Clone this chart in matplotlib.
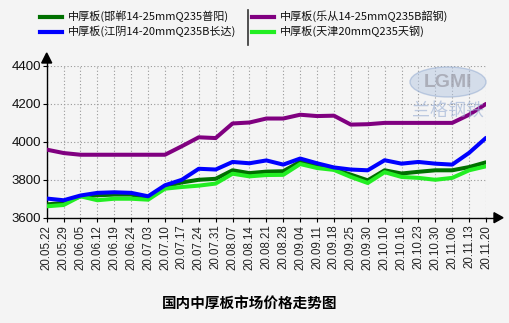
import matplotlib
matplotlib.use("Agg")
import matplotlib.pyplot as plt
from matplotlib.patches import Ellipse
from matplotlib.lines import Line2D

plt.rcParams['font.family'] = ['Liberation Sans', 'Noto Sans CJK SC', 'DejaVu Sans']

dates = ["20.05.22", "20.05.29", "20.06.05", "20.06.12", "20.06.19", "20.06.24", "20.07.03",
         "20.07.10", "20.07.17", "20.07.24", "20.07.31", "20.08.07", "20.08.14", "20.08.21",
         "20.08.28", "20.09.04", "20.09.11", "20.09.18", "20.09.25", "20.09.30", "20.10.10",
         "20.10.16", "20.10.23", "20.10.30", "20.11.06", "20.11.13", "20.11.20"]

handan = [3670, 3678, 3713, 3718, 3722, 3722, 3704, 3765, 3786, 3800, 3805, 3850, 3835, 3843,
          3845, 3895, 3875, 3855, 3827, 3797, 3850, 3833, 3842, 3850, 3850, 3867, 3892]
jiangyin = [3701, 3692, 3717, 3731, 3734, 3731, 3713, 3771, 3800, 3858, 3854, 3894, 3887, 3902,
            3880, 3912, 3887, 3865, 3854, 3850, 3903, 3885, 3894, 3885, 3880, 3942, 4021]
lecong = [3959, 3941, 3932, 3932, 3932, 3932, 3932, 3932, 3977, 4024, 4020, 4097, 4102, 4123,
          4123, 4143, 4136, 4138, 4091, 4093, 4100, 4100, 4100, 4100, 4100, 4143, 4200]
tianjin = [3660, 3667, 3713, 3692, 3700, 3700, 3695, 3753, 3762, 3769, 3780, 3832, 3818, 3825,
           3826, 3883, 3862, 3852, 3815, 3783, 3840, 3815, 3810, 3800, 3810, 3850, 3871]

series_names = ["中厚板(邯郸14-25mmQ235普阳)", "中厚板(江阴14-20mmQ235B长达)",
                "中厚板(乐从14-25mmQ235B韶钢)", "中厚板(天津20mmQ235天钢)"]
colors = ["#007000", "#0000FF", "#800080", "#22EE22"]

yticks = [3600, 3800, 4000, 4200, 4400]
title = "国内中厚板市场价格走势图"

W, H = 509, 323
bg = "#F4F4F4"
fig = plt.figure(figsize=(W / 100, H / 100), dpi=100, facecolor=bg)
x0, x1, ytop, ybot = 46.7, 486.0, 66.0, 217.7
ax = fig.add_axes([x0 / W, 1 - ybot / H, (x1 - x0) / W, (ybot - ytop) / H], facecolor=bg)

xs = list(range(len(dates)))
data = [handan, jiangyin, lecong, tianjin]
order = [0, 3, 1, 2]
for i in order:
    ax.plot(xs, data[i], color=colors[i], lw=2.9, solid_joinstyle='round',
            solid_capstyle='round', zorder=3 + order.index(i))

ax.set_xlim(0, len(dates) - 1)
ax.set_ylim(3600, 4400)
ax.set_xticks(xs)
ax.set_xticklabels(dates, rotation=90, fontsize=8.3, color="#222222")
ax.set_yticks(yticks)
ax.set_yticklabels([str(v) for v in yticks], fontsize=9.5, color="#111111")
ax.tick_params(axis='x', length=3, width=0.8, pad=2, color="black")
ax.tick_params(axis='y', length=3, width=0.8, pad=1, color="black")
ax.grid(True, color="#999999", lw=0.8, linestyle=(0, (1, 2)))
for s in ["top", "right"]:
    ax.spines[s].set_visible(False)
for s in ["left", "bottom"]:
    ax.spines[s].set_color("black")
    ax.spines[s].set_linewidth(1.0)

# axis arrows
fig.add_artist(Line2D([x0 / W, x0 / W], [1 - ytop / H, 1 - 60 / H], color="black", lw=1.0))
fig.add_artist(Line2D([x1 / W, 496 / W], [1 - ybot / H, 1 - ybot / H], color="black", lw=1.0))
fig.add_artist(plt.Polygon([[(x0 - 5) / W, 1 - 63 / H], [(x0 + 5) / W, 1 - 63 / H], [x0 / W, 1 - 53 / H]],
                           closed=True, color="black", transform=fig.transFigure))
fig.add_artist(plt.Polygon([[494 / W, 1 - (ybot - 5) / H], [494 / W, 1 - (ybot + 5) / H], [503 / W, 1 - ybot / H]],
                           closed=True, color="black", transform=fig.transFigure))

# watermark
fig.add_artist(Ellipse((448 / W, 1 - 82 / H), 76 / W, 30 / H, transform=fig.transFigure,
                       facecolor="#B5C7E2", edgecolor="#8FA8CF", alpha=0.5, lw=1.0, zorder=1))
fig.text(448 / W, 1 - 82 / H, "LGMI", ha="center", va="center", fontsize=14, fontweight="bold",
         color="#9A9AA5", alpha=0.7, family=["Liberation Sans"])
fig.text(448 / W, 1 - 112 / H, "兰格钢铁", ha="center", va="center", fontsize=13, style="italic",
         color="#9FB3D6", alpha=0.65, family=["Noto Sans CJK SC"])

# legend
leg = [(40, 62, 68, 16.5, 0), (40, 62, 68, 31.5, 1), (252, 274, 280, 16.5, 2), (252, 274, 280, 31.5, 3)]
for lx0, lx1, tx, ty, i in leg:
    fig.add_artist(Line2D([lx0 / W, lx1 / W], [1 - ty / H, 1 - ty / H], color=colors[i], lw=3.0))
    fig.text(tx / W, 1 - ty / H, series_names[i], ha="left", va="center", fontsize=8.0,
             color="#111111", family=["Noto Sans CJK SC", "DejaVu Sans"])
fig.add_artist(Line2D([248 / W, 248 / W], [1 - 10 / H, 1 - 45 / H], color="#333333", lw=1.2))

fig.text(250 / W, 1 - 304 / H, title, ha="center", va="center", fontsize=10.5, fontweight="bold",
         color="black", family=["Noto Sans CJK SC"])

fig.savefig("out.png", dpi=100, facecolor=bg)
